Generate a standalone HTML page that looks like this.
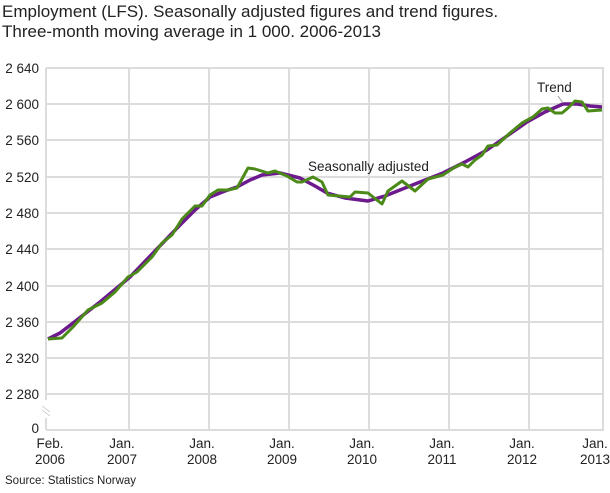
<!DOCTYPE html>
<html><head><meta charset="utf-8"><style>
body{margin:0;background:#fff;}
text{font-family:"Liberation Sans",sans-serif;fill:#222;}
</style></head><body>
<svg width="610" height="488" viewBox="0 0 610 488" xmlns="http://www.w3.org/2000/svg">
<text x="2" y="17" font-size="17">Employment (LFS). Seasonally adjusted figures and trend figures.</text>
<text x="2" y="37" font-size="17">Three-month moving average in 1 000. 2006-2013</text>
<g stroke="#dcdcdc" stroke-width="2">
<line x1="46" x2="604" y1="68" y2="68"/><line x1="46" x2="604" y1="104" y2="104"/>
<line x1="46" x2="604" y1="140" y2="140"/><line x1="46" x2="604" y1="177" y2="177"/>
<line x1="46" x2="604" y1="213" y2="213"/><line x1="46" x2="604" y1="249" y2="249"/>
<line x1="46" x2="604" y1="286" y2="286"/><line x1="46" x2="604" y1="322" y2="322"/>
<line x1="46" x2="604" y1="358" y2="358"/><line x1="46" x2="604" y1="394" y2="394"/>
<line x1="46" x2="604" y1="430" y2="430"/>
<line x1="129" x2="129" y1="68" y2="430"/><line x1="209" x2="209" y1="68" y2="430"/>
<line x1="289" x2="289" y1="68" y2="430"/><line x1="369" x2="369" y1="68" y2="430"/>
<line x1="449" x2="449" y1="68" y2="430"/><line x1="529" x2="529" y1="68" y2="430"/>
<line x1="603" x2="603" y1="68" y2="430"/>
<line x1="46" x2="46" y1="68" y2="400"/><line x1="46" x2="46" y1="418" y2="430"/>
</g>
<g stroke="#cfcfcf" stroke-width="1"><line x1="42" y1="410" x2="50" y2="416"/><line x1="42" y1="406" x2="50" y2="412"/></g>
<g font-size="13.5" text-anchor="end">
<text x="39" y="73">2 640</text><text x="39" y="109">2 600</text><text x="39" y="145">2 560</text>
<text x="39" y="182">2 520</text><text x="39" y="218">2 480</text><text x="39" y="254">2 440</text>
<text x="39" y="291">2 400</text><text x="39" y="327">2 360</text><text x="39" y="363">2 320</text>
<text x="39" y="399">2 280</text><text x="39" y="433">0</text>
</g>
<g font-size="13.5" text-anchor="middle">
<text x="50" y="448">Feb.</text><text x="50" y="464">2006</text>
<text x="122" y="448">Jan.</text><text x="122" y="464">2007</text>
<text x="202" y="448">Jan.</text><text x="202" y="464">2008</text>
<text x="282" y="448">Jan.</text><text x="282" y="464">2009</text>
<text x="362" y="448">Jan.</text><text x="362" y="464">2010</text>
<text x="442" y="448">Jan.</text><text x="442" y="464">2011</text>
<text x="522" y="448">Jan.</text><text x="522" y="464">2012</text>
<text x="595" y="448">Jan.</text><text x="595" y="464">2013</text>
</g>
<text x="5" y="484" font-size="11.5">Source: Statistics Norway</text>
<polyline fill="none" stroke="#6d1a8e" stroke-width="3.5" stroke-linejoin="round" points="48,339 60,333 73,323 100,302 130,277 155,251 180,225 195,210 210,197 225,191 237,187 250,180 262,175 280,173 300,178 315,186 327,193 345,198 368,201 385,196 400,190 420,182 443,173 465,162 487,150 507,136 527,122 545,112 563,104 577,104 590,106 602,107"/>
<polyline fill="none" stroke="#4b8a18" stroke-width="3" stroke-linejoin="round" points="48,339 62,338 73,327 88,310 102,303 115,292 128,277 137,272 152,257 162,243 172,235 182,219 195,206 202,206 210,195 218,190 228,190 237,188 248,168 255,169 268,173 275,171 287,176 297,182 302,182 313,177 322,182 328,195 350,197 355,192 368,193 382,204 388,191 402,181 415,191 428,179 443,175 455,167 462,164 468,167 475,160 482,155 488,146 497,145 510,133 522,123 533,117 542,109 548,108 555,113 562,113 568,108 575,101 582,102 588,111 602,110"/>
<text x="308" y="171" font-size="13.5">Seasonally adjusted</text>
<text x="537" y="92" font-size="13.5">Trend</text>
<line x1="558" y1="96" x2="563" y2="103" stroke="#999" stroke-width="1"/>
</svg>
</body></html>
